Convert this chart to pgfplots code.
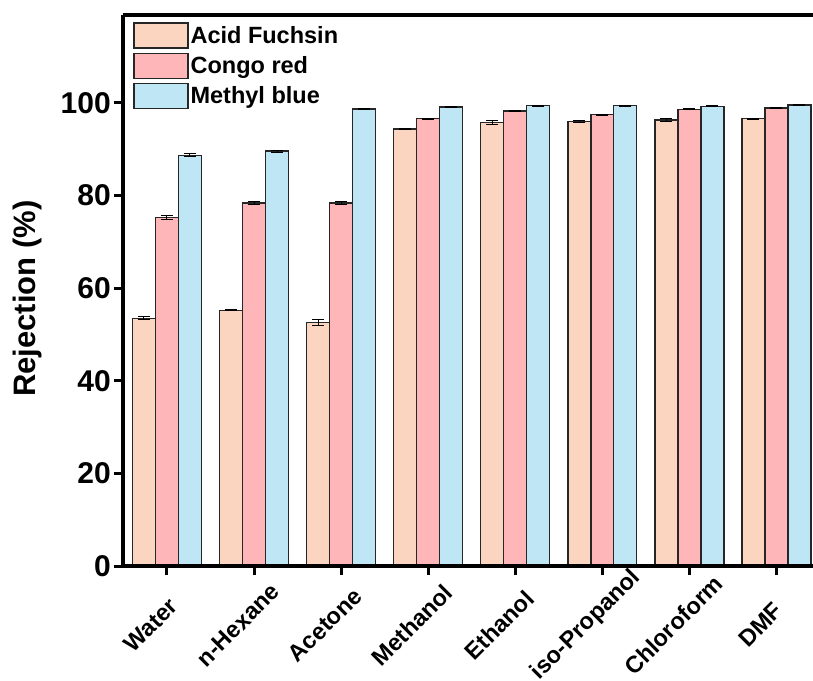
\documentclass[border=0pt]{standalone}
\usepackage{pgfplots}
\pgfplotsset{compat=1.18}
\usepackage{pgfplotstable}
\usepackage{fontspec}
\setmainfont{Liberation Sans}

\definecolor{afcol}{RGB}{252,213,192}
\definecolor{crcol}{RGB}{255,182,185}
\definecolor{mbcol}{RGB}{190,230,245}

% rejection (%) and its error, per solvent
\pgfplotstableread{
x af afe cr cre mb mbe
0 53.5 0.3 75.3 0.5 88.7 0.3
1 55.2 0.1 78.4 0.3 89.6 0.2
2 52.6 0.6 78.4 0.4 98.7 0.1
3 94.4 0.1 96.6 0.1 99.1 0.1
4 95.8 0.5 98.3 0.1 99.4 0.1
5 96.0 0.3 97.5 0.1 99.4 0.1
6 96.3 0.3 98.6 0.1 99.3 0.1
7 96.6 0.1 98.9 0.1 99.6 0.1
}\rejdata

\pgfplotsset{ybar legend/.style={legend image code/.code={%
  \draw[##1,line width=1.4pt] (0pt,-12.5pt) rectangle (54pt,12.5pt);}}}

\begin{document}
\begin{tikzpicture}
\begin{axis}[
  scale only axis,
  width=690pt, height=551pt,
  xmin=-0.505, xmax=7.42,
  ymin=0, ymax=119,
  axis on top,
  axis x line*=box, axis y line*=left,
  axis line style={line width=3.2pt},
  xtick pos=bottom, ytick pos=left,
  tick align=outside,
  major tick length=9pt,
  every tick/.style={line width=3pt, black},
  xtick=data,
  xticklabels={Water,n-Hexane,Acetone,Methanol,Ethanol,iso-Propanol,Chloroform,DMF},
  ytick={0,20,40,60,80,100},
  /pgf/number format/assume math mode=true,
  yticklabel style={font=\fontsize{30}{33}\selectfont\bfseries, inner sep=3pt},
  xticklabel style={xshift=-16pt, yshift=-50pt, rotate=45, anchor=center, inner sep=1pt,
    font=\fontsize{23.5}{26}\selectfont\bfseries},
  ylabel={Rejection (\%)},
  every axis y label/.style={at={(rel axis cs:0,0.485)}, xshift=-78pt, rotate=90, anchor=south,
    font=\fontsize{31}{34}\selectfont\bfseries},
  ybar, bar width=0.264,
  legend style={at={(rel axis cs:0,1)}, anchor=north west, xshift=10pt, yshift=-7pt,
    draw=none, fill=none, font=\fontsize{23.5}{27}\selectfont\bfseries,
    row sep=4pt, inner sep=0pt, cells={anchor=west}},
  error bars/y dir=both, error bars/y explicit,
  error bars/error bar style={line width=1pt, black},
  error bars/error mark options={rotate=90, mark size=6pt, line width=1pt, black},
]
\coordinate (LL) at (rel axis cs:0,0);
\coordinate (UR) at (rel axis cs:1,1);
\addplot[fill=afcol, draw=black!85, line width=1.4pt, bar shift=-0.264]
  table[x=x, y=af, y error=afe] {\rejdata};
\addplot[fill=crcol, draw=black!85, line width=1.4pt, bar shift=0]
  table[x=x, y=cr, y error=cre] {\rejdata};
\addplot[fill=mbcol, draw=black!85, line width=1.4pt, bar shift=0.264]
  table[x=x, y=mb, y error=mbe] {\rejdata};
\legend{Acid Fuchsin, Congo red, Methyl blue}
\end{axis}
\pgfresetboundingbox
\path[use as bounding box] ([xshift=-123pt,yshift=-115pt]LL) rectangle ([yshift=15pt]UR);
\end{tikzpicture}
\end{document}
